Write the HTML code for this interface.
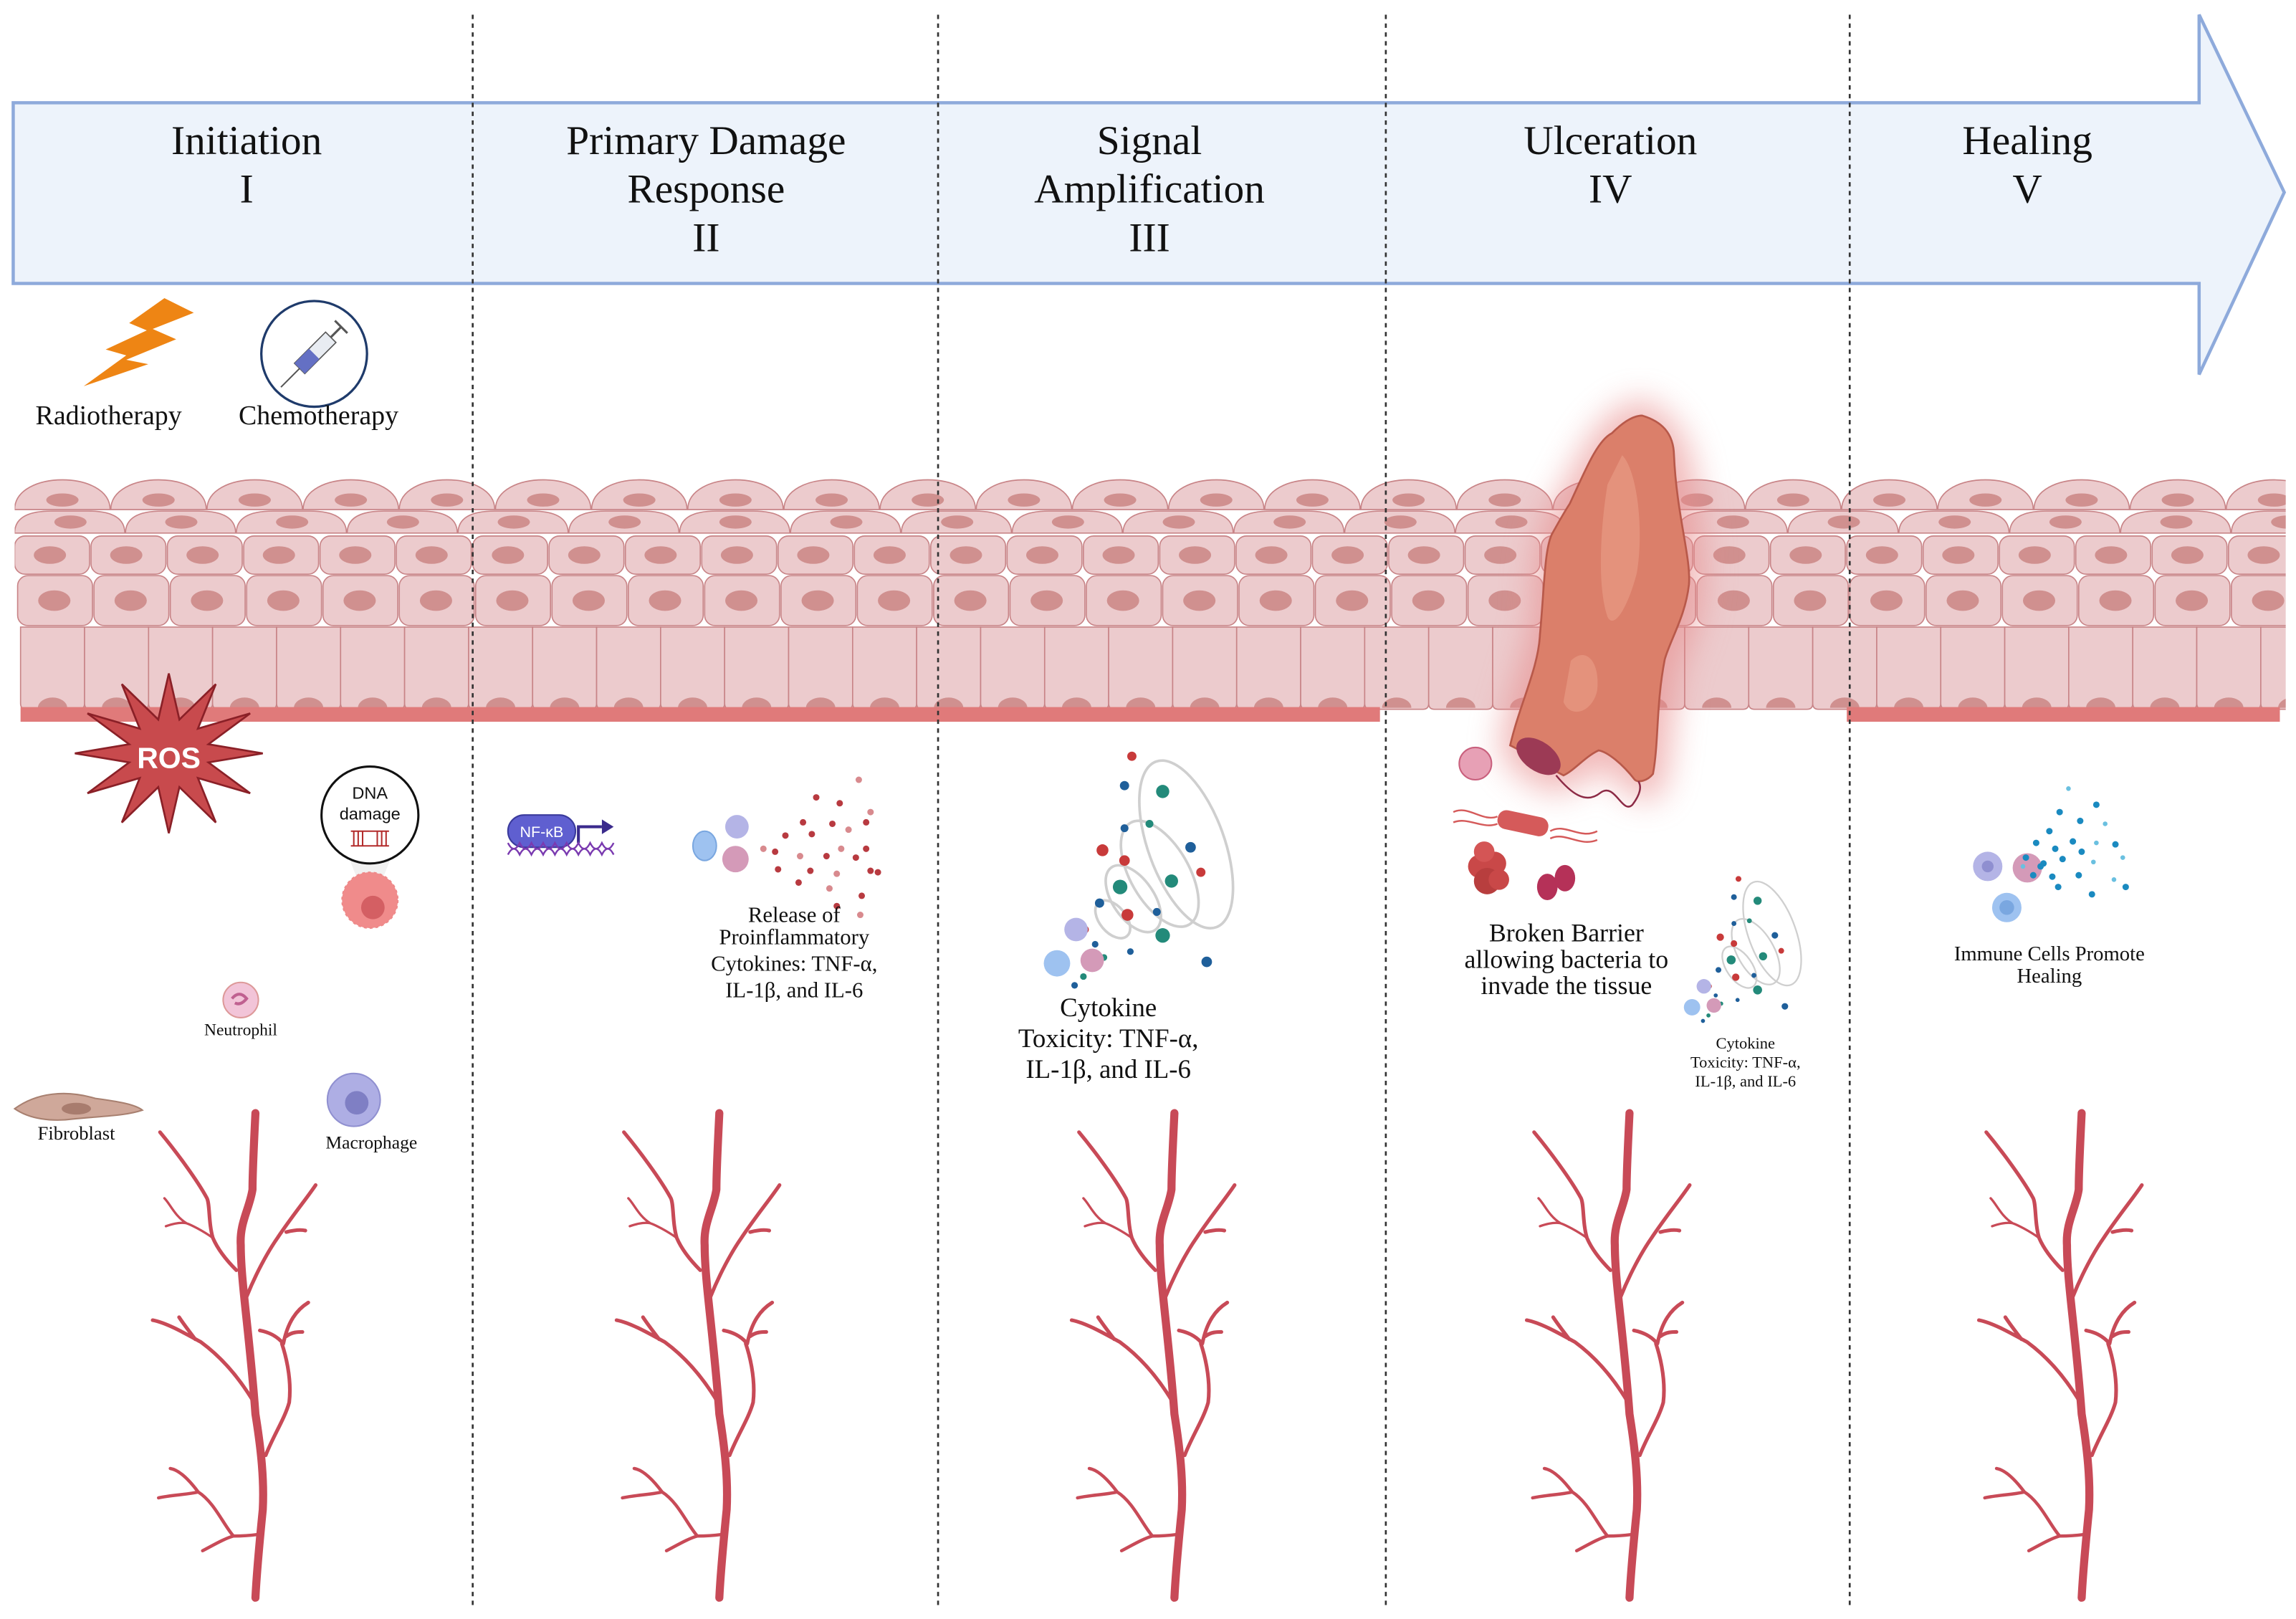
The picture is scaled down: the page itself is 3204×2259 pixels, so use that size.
<!DOCTYPE html>
<html><head><meta charset="utf-8">
<style>
html,body{margin:0;padding:0;background:#fff;}
svg{display:block;}
.t{font-family:"Liberation Serif",serif;fill:#111;text-anchor:middle;}
.s{font-family:"Liberation Sans",sans-serif;text-anchor:middle;}
</style></head>
<body>
<svg id="m" width="3204" height="2259" viewBox="0 0 1564 1102.5" preserveAspectRatio="none" xmlns="http://www.w3.org/2000/svg">
<defs>
<clipPath id="ep"><rect x="10" y="320" width="1547" height="175"/></clipPath>
<filter id="glow" x="-50%" y="-50%" width="200%" height="200%"><feGaussianBlur stdDeviation="11"/></filter>
<g id="vessel" fill="none" stroke="#c84a57" stroke-linecap="round" stroke-linejoin="round">
<path d="M0,0 C-1,20 -2,40 -2,52 C-4,65 -11,75 -10,90 C-10,115 -4,150 0,205 C4,230 6,250 5,270 C3,290 1,310 0,330" stroke-width="5.5"/>
<path d="M-13,107 C-20,100 -26,92 -29,85 C-32,75 -31,62 -33,58 C-40,45 -55,25 -65,13" stroke-width="2.5"/>
<path d="M-29,85 C-36,80 -44,76 -47,75 C-55,70 -58,62 -62,58 M-47,75 C-52,74 -58,76 -61,77" stroke-width="1.6"/>
<path d="M-6,125 C0,110 8,95 15,85 C25,70 35,58 41,49 M21,81 C25,80 30,79 34,80" stroke-width="2.5"/>
<path d="M-1,197 C-10,182 -22,167 -37,156 C-48,150 -60,143 -70,141 M-41,154 C-44,150 -48,145 -52,139" stroke-width="2.5"/>
<path d="M7,233 C12,220 20,208 23,197 C25,180 20,163 18,157 M19,157 C14,151 8,149 3,148 M19,157 C22,142 28,134 36,129 M21,152 C25,149 29,149 32,149" stroke-width="2.5"/>
<path d="M1,287 C-6,288 -12,288 -15,288 C-22,280 -28,265 -39,258 C-48,260 -57,260 -66,262 M-39,258 C-45,250 -52,243 -58,242 M-15,288 C-22,290 -30,295 -36,298" stroke-width="2.2"/>
</g>
</defs>

<polygon points="9,70 1498,70 1498,10 1556,131 1498,255 1498,193 9,193" fill="#edf3fb" stroke="#8eaadb" stroke-width="2.2"/>

<g id="cells" clip-path="url(#ep)"></g>
<rect x="14" y="481.5" width="926" height="10" fill="#e07a7a"/>
<rect x="1258" y="481.5" width="295" height="10" fill="#e07a7a"/>

<g stroke="#333" stroke-width="1.3" stroke-dasharray="3,3">
<line x1="322" y1="10" x2="322" y2="1095"/>
<line x1="639" y1="10" x2="639" y2="1095"/>
<line x1="944" y1="10" x2="944" y2="1095"/>
<line x1="1260" y1="10" x2="1260" y2="1095"/>
</g>

<g class="t" font-size="28">
<text x="168" y="105">Initiation</text><text x="168" y="138">I</text>
<text x="481" y="105">Primary Damage</text><text x="481" y="138">Response</text><text x="481" y="171">II</text>
<text x="783" y="105">Signal</text><text x="783" y="138">Amplification</text><text x="783" y="171">III</text>
<text x="1097" y="105">Ulceration</text><text x="1097" y="138">IV</text>
<text x="1381" y="105">Healing</text><text x="1381" y="138">V</text>
</g>

<polygon points="112,203 132,213 104,224 120,231 86,245 101,248 57,263 86,242 72,238 100,225 88,220" fill="#ee8514"/>
<circle cx="214" cy="241" r="36" fill="#fff" stroke="#1f3b6b" stroke-width="1.6"/>
<g transform="translate(214,241) rotate(-45)">
<rect x="-14" y="-5" width="30" height="10" fill="#e8ecf2" stroke="#555" stroke-width="0.8"/>
<rect x="-14" y="-5" width="14" height="10" fill="#6470c4"/>
<line x1="-14" y1="0" x2="-32" y2="0" stroke="#555" stroke-width="1"/>
<line x1="16" y1="0" x2="26" y2="0" stroke="#555" stroke-width="1.5"/>
<line x1="26" y1="-6" x2="26" y2="6" stroke="#555" stroke-width="1.5"/>
</g>
<g class="t" font-size="18.5"><text x="74" y="289">Radiotherapy</text><text x="217" y="289">Chemotherapy</text></g>

<path d="M1118,272 C1140,280 1152,300 1155,330 C1160,370 1168,410 1146,450 C1138,480 1140,515 1132,540 C1120,552 1105,540 1098,525 C1085,522 1075,538 1060,540 C1038,535 1018,515 1022,505 C1028,470 1042,440 1044,420 C1044,390 1046,360 1060,340 C1075,315 1085,280 1118,272Z" fill="#e88a8a" opacity="0.6" filter="url(#glow)"/>
<path d="M1118.6,283 C1132,287 1140,295 1140.3,310 C1142,350 1152,380 1150.5,398 C1148,420 1138,435 1134,449 C1128,480 1130,505 1126,527 C1122,532 1116,533 1113.6,531 C1105,520 1095,512 1089,511 C1080,515 1072,525 1065,528 C1050,520 1038,512 1028.7,507.6 C1035,480 1048,455 1049,432 C1052,400 1052,375 1057,364 C1062,355 1066,348 1069.3,343 C1080,320 1088,300 1098,295 C1105,288 1112,283 1118.6,283Z" fill="#db7f6a" stroke="#b8594a" stroke-width="1.3"/>
<path d="M1105,310 C1115,320 1120,360 1115,390 C1110,410 1100,430 1095,420 C1088,400 1090,360 1095,330Z" fill="#e89a84" opacity="0.7"/>
<path d="M1070,450 C1080,440 1090,450 1088,470 C1085,485 1070,490 1065,478Z" fill="#e89a84" opacity="0.7"/>
<ellipse cx="1048" cy="515" rx="17" ry="10" transform="rotate(35 1048 515)" fill="#9c3a55"/>
<path d="M1060,528 C1070,540 1080,548 1090,540 C1100,532 1105,555 1112,548 C1118,540 1118,535 1116,532" fill="none" stroke="#8c2a45" stroke-width="1.2"/>
<circle cx="1005" cy="520" r="11" fill="#e7a0b5" stroke="#c9607d"/>
<rect x="1020" y="554" width="35" height="13" rx="6" transform="rotate(12 1037 560)" fill="#d55a5a"/>
<path d="M990,553 C1000,548 1010,560 1020,556 M990,560 C1000,556 1010,565 1020,561 M1056,566 C1066,560 1076,572 1088,566 M1056,571 C1066,566 1076,577 1088,572" fill="none" stroke="#d55a5a" stroke-width="1.2"/>
<circle cx="1008" cy="590" r="8" fill="#c94848"/><circle cx="1018" cy="588" r="8" fill="#c94848"/><circle cx="1013" cy="600" r="9" fill="#b83e3e"/><circle cx="1021" cy="599" r="7" fill="#c94848"/><circle cx="1011" cy="580" r="7" fill="#d45555"/>
<ellipse cx="1054" cy="604" rx="7" ry="9" fill="#b53158"/><ellipse cx="1066" cy="598" rx="7" ry="9" fill="#b53158"/>

<polygon id="ros" fill="#c84a4d" stroke="#8a2027" stroke-width="1.3"/>
<text x="115" y="523" class="s" font-size="20" font-weight="bold" fill="#fff">ROS</text>

<path d="M238,585 L266,585 L258,605 L246,605Z" fill="#eee" opacity="0.8"/>
<circle cx="252" cy="613" r="19" fill="#f08b8b" stroke="#e88" stroke-dasharray="2,2"/>
<circle cx="254" cy="618" r="8" fill="#d45f63"/>
<circle cx="252" cy="555" r="33" fill="#fff" stroke="#111" stroke-width="1.5"/>
<text x="252" y="544" class="s" font-size="11.5" fill="#111">DNA</text>
<text x="252" y="558" class="s" font-size="11.5" fill="#111">damage</text>
<g stroke="#b32c2c" stroke-width="1"><line x1="239" y1="566" x2="265" y2="566"/><line x1="239" y1="576" x2="265" y2="576"/>
<line x1="241" y1="566" x2="241" y2="576"/><line x1="244" y1="566" x2="244" y2="576"/><line x1="247" y1="566" x2="247" y2="576"/><line x1="257" y1="566" x2="257" y2="576"/><line x1="260" y1="566" x2="260" y2="576"/><line x1="263" y1="566" x2="263" y2="576"/></g>

<circle cx="164" cy="681" r="12" fill="#f2c4d8" stroke="#d99"/>
<path d="M158,680 q5,-6 10,0 q-4,5 -8,3" fill="none" stroke="#c06090" stroke-width="2"/>
<text x="164" y="705" class="t" font-size="11.5">Neutrophil</text>
<path d="M10,755 C25,744 45,742 65,748 C80,750 92,752 97,756 C85,760 70,760 50,762 C35,764 20,762 10,755Z" fill="#cfa89a" stroke="#a88070"/>
<ellipse cx="52" cy="755" rx="10" ry="4" fill="#a87c6e"/>
<text x="52" y="776" class="t" font-size="13">Fibroblast</text>
<circle cx="241" cy="749" r="18" fill="#aeaee4" stroke="#9090d0"/>
<circle cx="243" cy="751" r="8" fill="#7f7fc4"/>
<text x="253" y="782" class="t" font-size="12.5">Macrophage</text>

<rect x="346" y="555" width="46" height="22" rx="11" fill="#5f5fd0" stroke="#3a3a9c"/>
<text x="369" y="570" class="s" font-size="10.5" fill="#fff">NF-κB</text>
<path d="M394,574 L394,563 L410,563" fill="none" stroke="#3a2a8c" stroke-width="2"/>
<polygon points="410,558 418,563 410,568" fill="#3a2a8c"/>
<path d="M346,574 q4,8 8,0 q4,8 8,0 q4,8 8,0 q4,8 8,0 q4,8 8,0 q4,8 8,0 q4,8 8,0 q4,8 8,0 q4,8 8,0 M346,582 q4,-8 8,0 q4,-8 8,0 q4,-8 8,0 q4,-8 8,0 q4,-8 8,0 q4,-8 8,0 q4,-8 8,0 q4,-8 8,0 q4,-8 8,0" fill="none" stroke="#7a3ab0" stroke-width="1.2"/>

<ellipse cx="480" cy="576" rx="8" ry="10" fill="#9ec2f0" stroke="#7aa7e0"/>
<circle cx="502" cy="563" r="8" fill="#b4b4e6"/>
<circle cx="501" cy="585" r="9" fill="#d49ab8"/>
<g id="reddots" fill="#b83a40"></g>
<g class="t" font-size="15"><text x="541" y="628">Release of</text><text x="541" y="643">Proinflammatory</text><text x="541" y="661">Cytokines:  TNF-α,</text><text x="541" y="679">IL-1β, and IL-6</text></g>

<g fill="none" stroke="#cfcfcf" stroke-width="1.8">
<ellipse cx="808" cy="575" rx="26" ry="60" transform="rotate(-20 808 575)"/>
<ellipse cx="790" cy="595" rx="20" ry="40" transform="rotate(-30 790 595)"/>
<ellipse cx="772" cy="612" rx="14" ry="26" transform="rotate(-35 772 612)"/>
<ellipse cx="758" cy="626" rx="9" ry="15" transform="rotate(-40 758 626)"/>
</g>
<g id="sig"></g>
<circle cx="733" cy="633" r="8" fill="#b4b4e6"/><circle cx="720" cy="656" r="9" fill="#9ec2f0"/><circle cx="744" cy="654" r="8" fill="#d49ab8"/>
<g class="t" font-size="18"><text x="755" y="692">Cytokine</text><text x="755" y="713">Toxicity: TNF-α,</text><text x="755" y="734">IL-1β, and IL-6</text></g>

<g transform="translate(1196,645) scale(0.62) translate(-790,-590)">
<g fill="none" stroke="#cfcfcf" stroke-width="1.8">
<ellipse cx="808" cy="575" rx="26" ry="60" transform="rotate(-20 808 575)"/>
<ellipse cx="790" cy="595" rx="20" ry="40" transform="rotate(-30 790 595)"/>
<ellipse cx="772" cy="612" rx="14" ry="26" transform="rotate(-35 772 612)"/>
</g>
<g id="sig2"></g>
<circle cx="733" cy="633" r="8" fill="#b4b4e6"/><circle cx="720" cy="656" r="9" fill="#9ec2f0"/><circle cx="744" cy="654" r="8" fill="#d49ab8"/>
</g>
<g class="t" font-size="17.5"><text x="1067" y="641">Broken Barrier</text><text x="1067" y="659">allowing bacteria to</text><text x="1067" y="677">invade the tissue</text></g>
<g class="t" font-size="11"><text x="1189" y="714">Cytokine</text><text x="1189" y="727">Toxicity: TNF-α,</text><text x="1189" y="740">IL-1β, and IL-6</text></g>

<circle cx="1354" cy="590" r="10" fill="#b4b4e6"/><circle cx="1354" cy="590" r="4" fill="#8f8fd0"/>
<circle cx="1381" cy="591" r="10" fill="#d49ab8"/>
<circle cx="1367" cy="618" r="10" fill="#9ec2f0"/><circle cx="1367" cy="618" r="5" fill="#7aa7e0"/>
<g id="bluedots" fill="#1a8ac0"></g>
<g class="t" font-size="14"><text x="1396" y="654">Immune Cells Promote</text><text x="1396" y="669">Healing</text></g>

<use href="#vessel" x="174" y="758"/>
<use href="#vessel" x="490" y="758"/>
<use href="#vessel" x="800" y="758"/>
<use href="#vessel" x="1110" y="758"/>
<use href="#vessel" x="1418" y="758"/>
</svg>
<script>
var NS="http://www.w3.org/2000/svg";
function el(p,t,a){var e=document.createElementNS(NS,t);for(var k in a)e.setAttribute(k,a[k]);p.appendChild(e);return e;}
var g=document.getElementById("cells");
var F="#eccbcd",S="#c88487",N="#d0908f";
for(var x=14;x<1556;x+=43.6){el(g,"path",{d:"M"+x+",427 h43.6 v52 q0,4 -4,4 h-35.6 q-4,0 -4,-4z",fill:F,stroke:S,"stroke-width":0.8});
el(g,"path",{d:"M"+(x+11.8)+",482 a10,7 0 0 1 20,0z",fill:N});}
for(var x=12;x<1556;x+=52){el(g,"rect",{x:x,y:392,width:51,height:34,rx:7,fill:F,stroke:S,"stroke-width":0.8});el(g,"ellipse",{cx:x+25,cy:409,rx:11,ry:7,fill:N});}
for(var x=10;x<1556;x+=52){el(g,"rect",{x:x,y:365,width:51,height:26,rx:7,fill:F,stroke:S,"stroke-width":0.8});el(g,"ellipse",{cx:x+24,cy:378,rx:11,ry:6,fill:N});}
for(var x=10;x<1556;x+=75.5){el(g,"path",{d:"M"+x+",363 q0,-15 25,-15 h25 q25,0 25,15z",fill:F,stroke:S,"stroke-width":0.8});el(g,"ellipse",{cx:x+38,cy:355.5,rx:11,ry:4.5,fill:N});}
for(var x=10;x<1556;x+=65.5){el(g,"path",{d:"M"+x+",347 C"+x+",320 "+(x+65)+",320 "+(x+65)+",347z",fill:F,stroke:S,"stroke-width":0.8});el(g,"ellipse",{cx:x+32.5,cy:340.5,rx:11,ry:4.5,fill:N});}
var pts=[],n=12;for(var i=0;i<2*n;i++){var r=i%2?28:64,a=Math.PI*i/n-Math.PI/2;pts.push((115+r*Math.cos(a)).toFixed(1)+","+(513+r*Math.sin(a)*0.85).toFixed(1));}
document.getElementById("ros").setAttribute("points",pts.join(" "));
var rd=document.getElementById("reddots");var R=[[585,531],[556,543],[572,547],[593,553],[547,560],[567,561],[578,565],[535,569],[553,568],[573,578],[590,578],[528,580],[545,583],[563,583],[583,584],[520,578],[530,592],[552,593],[570,595],[598,594],[544,601],[565,605],[587,610],[570,617],[586,623],[593,593],[590,560]];
R.forEach(function(p,i){el(rd,"circle",{cx:p[0],cy:p[1],r:2.2,fill:i%3==0?"#d88a8e":"#b83a40"});});
function sig(id){var sg=document.getElementById(id);var D=[[791,520,"#c83a3a",3.5],[786,540,"#1f5f9a",3.5],[812,544,"#238a7a",5],[786,569,"#1f5f9a",3],[803,566,"#238a7a",3],[831,582,"#1f5f9a",4],[771,584,"#c83a3a",4.5],[786,591,"#c83a3a",4],[783,609,"#238a7a",5.5],[818,605,"#238a7a",5],[769,620,"#1f5f9a",3.5],[808,626,"#1f5f9a",3],[788,628,"#c83a3a",4.5],[838,599,"#c83a3a",3.5],[812,642,"#238a7a",5.5],[759,638,"#c83a3a",3],[766,648,"#1f5f9a",2.5],[772,657,"#238a7a",2.5],[790,653,"#1f5f9a",2.5],[758,670,"#238a7a",2.5],[752,676,"#1f5f9a",2.5],[842,660,"#1f5f9a",4]];
D.forEach(function(p){el(sg,"circle",{cx:p[0]-20,cy:p[1]-5,r:p[3]*0.9,fill:p[2]});});}
sig("sig");sig("sig2");
var bd=document.getElementById("bluedots");
var B=[[1409,537],[1428,548],[1403,553],[1417,559],[1434,561],[1396,566],[1387,574],[1412,573],[1428,574],[1441,575],[1400,578],[1418,580],[1446,584],[1380,584],[1392,588],[1405,585],[1426,587],[1385,596],[1398,597],[1416,596],[1440,599],[1402,604],[1448,604],[1425,609],[1378,590],[1390,590]];
B.forEach(function(p,i){el(bd,"circle",{cx:p[0],cy:p[1],r:i%4==0?1.6:2.2,fill:i%4==0?"#6ac0e0":"#1a8ac0"});});
</script>
</body></html>
